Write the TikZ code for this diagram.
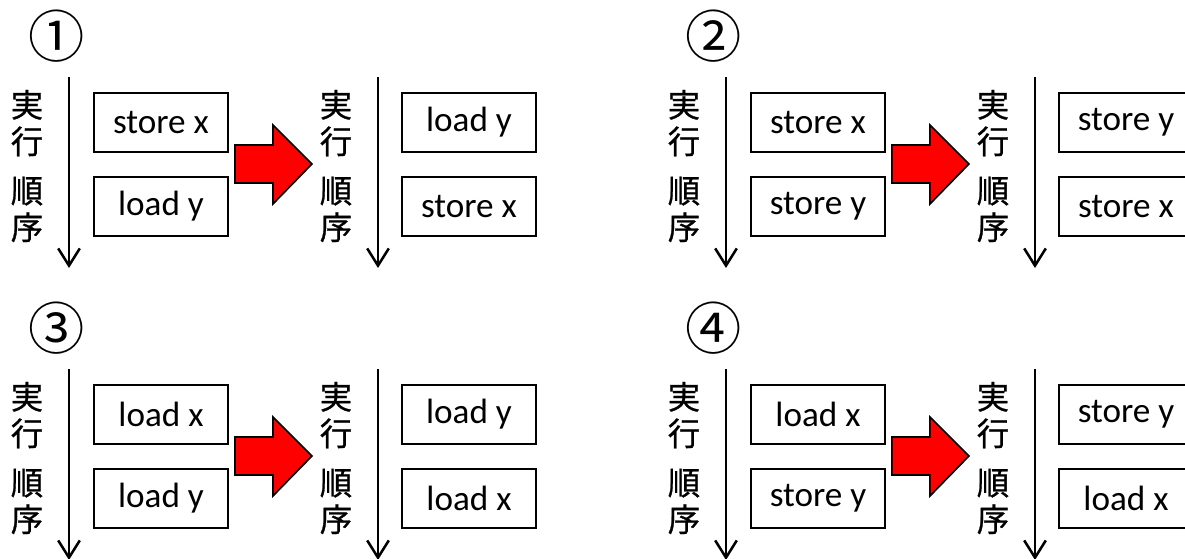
\documentclass[tikz,border=0pt]{standalone}
\usepackage{fontspec}
\setmainfont{Carlito}
\newfontfamily\cjk[FakeBold=0.8]{Noto Sans CJK JP}
\newfontfamily\cjknum{Noto Sans CJK JP}
\usetikzlibrary{arrows.meta}

\begin{document}
\begin{tikzpicture}[x=0.025cm, y=-0.025cm,
	opbox/.style={draw=black, line width=1.4pt, minimum width=3.35cm, minimum height=1.475cm, inner sep=0pt, font=\fontsize{25}{25}\selectfont},
	ordertext/.style={align=center, inner sep=0pt, font=\cjk\fontsize{23}{26}\selectfont},
	order/.style={line width=1.8pt, -{Straight Barb[length=4.3mm, width=5.4mm, line width=1.8pt]}},
	swaparrow/.style={fill=red, draw=black, line width=1.1pt, line join=miter},
	casenum/.style={inner sep=0pt, font=\cjknum\fontsize{40}{40}\selectfont}]
	
	\useasboundingbox (0,0) rectangle (1185,559);
	\clip (0,0) rectangle (1185,559);
	
	\foreach \ox/\oy/\num/\a/\b/\c/\d [count=\i] in
	{0/0/①/store x/load y/load y/store x,
	 657/0/②/store x/store y/store y/store x,
	 0/292/③/load x/load y/load y/load x,
	 657/292/④/load x/store y/store y/load x}
	{
	\begin{scope}[shift={(\ox,\oy)}]
		\node[casenum] (num\i) at (57,36) {\num};
		
		% before
		\node[ordertext] (lblA\i) at (27,166) {実\\行\\[9pt]順\\序};
		\coordinate (topA\i) at (69,77);
		\coordinate (botA\i) at (69,268);
		\draw[order] (topA\i) -- (botA\i);
		\node[opbox] (opA\i) at (161,122.5) {\a};
		\node[opbox] (opB\i) at (161,206.5) {\b};
		
		\draw[swaparrow] (235,145) -- (273,145) -- (273,125) -- (312,164)
			-- (273,204) -- (273,183) -- (235,183) -- cycle;
		
		% after
		\node[ordertext] (lblB\i) at (336,166) {実\\行\\[9pt]順\\序};
		\coordinate (topB\i) at (378,77);
		\coordinate (botB\i) at (378,268);
		\draw[order] (topB\i) -- (botB\i);
		\node[opbox] (opC\i) at (469,122.5) {\c};
		\node[opbox] (opD\i) at (469,206.5) {\d};
	\end{scope}
	}
\end{tikzpicture}
\end{document}
